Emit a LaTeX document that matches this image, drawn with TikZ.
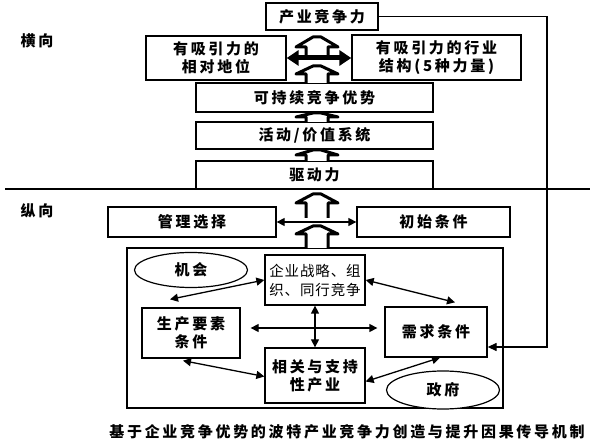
\documentclass[tikz,border=0pt]{standalone}
\usepackage{fontspec}
\setmainfont[LetterSpace=18]{Noto Sans CJK SC}
\newfontfamily\tightcjk[LetterSpace=6]{Noto Sans CJK SC}
\usetikzlibrary{arrows.meta,shapes.geometric}
\tikzset{
  box/.style={draw, line width=1.3pt, fill=white, inner sep=0pt, align=center,
    font=\fontsize{15}{18}\selectfont\bfseries},
  oval/.style={draw, ellipse, line width=1.2pt, fill=white, inner sep=0pt,
    minimum width=113pt, font=\fontsize{15}{18}\selectfont\bfseries},
  link/.style={line width=1.3pt, {Triangle[length=8pt,width=8pt]}-{Triangle[length=8pt,width=8pt]}},
  blk/.style={draw, line width=3pt, fill=white, line join=round},
  side/.style={font=\fontsize{15}{18}\selectfont\bfseries},
}
\newcommand\blkarrow[4]{%
  \draw[blk] (#1-11,#4) -- (#1-11,#3) -- (#1-21,#3) -- (#1-4,#2) -- (#1+4,#2)
    -- (#1+21,#3) -- (#1+11,#3) -- (#1+11,#4);}
\begin{document}
\begin{tikzpicture}[x=1pt,y=-1pt]
\useasboundingbox (0,0) rectangle (592,446);
% labels
\node[side] (hx) at (37,41) {横向};
\node[side] (zx) at (37,211) {纵向};
% divider
\draw[line width=2pt] (5,189) -- (590,189);
% upper chain
\node[box, minimum width=112pt, minimum height=27pt] (top) at (322,16.5) {产业竞争力};
\node[box, minimum width=140pt, minimum height=44pt] (lpos) at (216,58) {有吸引力的\\相对地位};
\node[box, minimum width=169pt, minimum height=45pt] (rstr) at (436.5,57.5) {有吸引力的行业\\结构(5种力量)};
\node[box, minimum width=237pt, minimum height=29pt] (sca) at (314.5,97.5) {可持续竞争优势};
\node[box, minimum width=237pt, minimum height=27pt] (act) at (314.5,135.5) {活动/价值系统};
\node[box, minimum width=237pt, minimum height=28pt] (drv) at (314.5,175) {驱动力};
% lower row
\node[box, minimum width=168pt, minimum height=30pt] (mgmt) at (192,222) {管理选择};
\node[box, minimum width=153pt, minimum height=30pt] (init) at (433.5,222) {初始条件};
\draw[link] (mgmt.east) -- (init.west);
% big system box
\node[draw, line width=1.2pt, minimum width=376pt, minimum height=160pt, inner sep=0pt] (sys) at (315,328) {};
\node[oval, minimum height=35pt] (chance) at (191,270) {机会};
\node[box, minimum width=100pt, minimum height=50pt, font=\fontsize{14.5}{19}\selectfont\tightcjk] (strat) at (315,280) {企业战略、组\\织、同行竞争};
\node[box, minimum width=98pt, minimum height=50pt] (fac) at (191,333) {生产要素\\条件};
\node[box, minimum width=102pt, minimum height=50pt] (dem) at (436,332) {需求条件};
\node[box, minimum width=100pt, minimum height=55pt] (rel) at (315,375.5) {相关与支持\\性产业};
\node[oval, minimum height=38pt] (gov) at (443,390) {政府};
% inner links
\draw[link] ([xshift=-21pt,yshift=8pt]fac.north) -- (strat.west);
\draw[link] (strat.east) -- ([xshift=19pt,yshift=4pt]dem.north);
\draw[link] ([xshift=10pt,yshift=5pt]fac.east) -- ([xshift=-7pt,yshift=4pt]dem.west);
\draw[link] (strat.south) -- (rel.north);
\draw[link] ([xshift=-8pt,yshift=-2pt]fac.south) -- ([yshift=-1pt]rel.west);
\draw[link] ([xshift=4pt]dem.south) -- ([yshift=-6pt]rel.east);
% feedback loop
\coordinate (fb) at (547,347);
\draw[line width=1.3pt, -{Triangle[length=9pt,width=8pt]}] (top.east) -| (fb) -- (dem.east |- fb);
% block arrows
\blkarrow{317}{37}{47}{60}
\draw[line width=5pt, {Triangle[length=12pt,width=15pt]}-{Triangle[length=12pt,width=15pt]}] (lpos.east) -- (rstr.west |- lpos.east);
\blkarrow{317}{66}{74}{83}
\blkarrow{317}{113}{117}{122}
\blkarrow{317}{150}{155}{161}
\blkarrow{317}{194}{203}{218}
\blkarrow{317}{226}{234}{248}
% caption
\node[font=\fontsize{15}{18}\selectfont\bfseries] (cap) at (347,432) {基于企业竞争优势的波特产业竞争力创造与提升因果传导机制};
\end{tikzpicture}
\end{document}
